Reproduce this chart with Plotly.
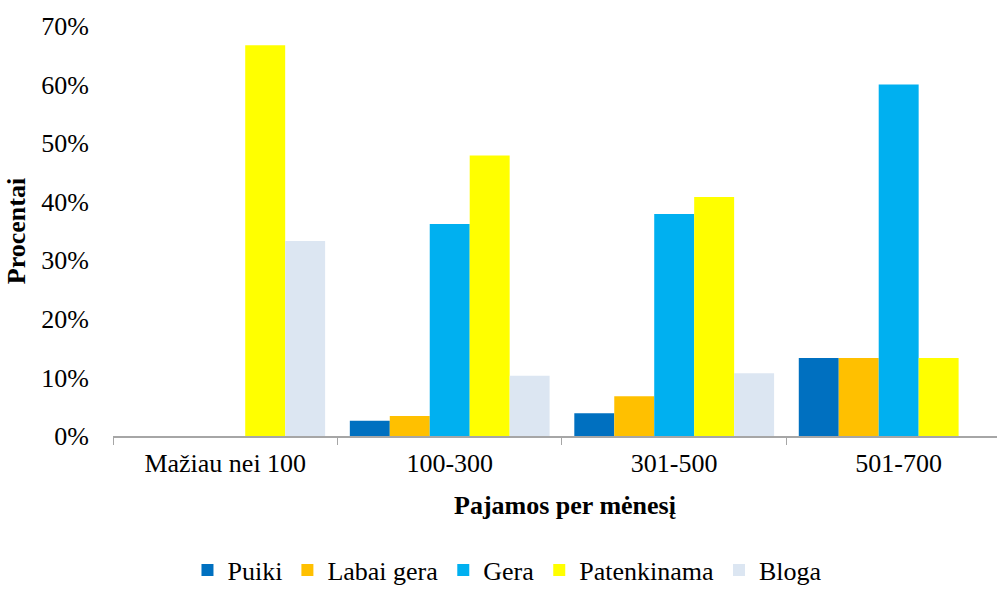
import plotly.graph_objects as go

# Income groups and rating shares (%)
categories = ["Mažiau nei 100", "100-300", "301-500", "501-700"]
series_names = ["Puiki", "Labai gera", "Gera", "Patenkinama", "Bloga"]
puiki = [0, 2.6, 3.9, 13.3]
labai_gera = [0, 3.4, 6.8, 13.3]
gera = [0, 36.2, 37.9, 60.0]
patenkinama = [66.7, 47.9, 40.8, 13.3]
bloga = [33.3, 10.3, 10.7, 0]
colors = ["#0070C0", "#FFC000", "#00B0F0", "#FFFF00", "#DCE6F2"]

FONT = "Liberation Serif"
FS = 26

fig = go.Figure()
for name, vals, col in zip(series_names, [puiki, labai_gera, gera, patenkinama, bloga], colors):
    fig.add_trace(go.Bar(
        name=name, x=categories, y=vals,
        marker=dict(color=col, line=dict(width=0)),
    ))

fig.update_layout(
    width=997, height=589,
    margin=dict(l=113, r=0, t=26, b=153),
    paper_bgcolor="white", plot_bgcolor="white",
    barmode="group", bargap=0.11, bargroupgap=0,
    font=dict(family=FONT, size=FS, color="black"),
    showlegend=True,
    legend=dict(
        orientation="h", xref="container", yref="container",
        x=0.509, xanchor="center", y=0.032, yanchor="middle",
        font=dict(family=FONT, size=FS, color="black"),
        itemwidth=30, traceorder="normal",
    ),
    annotations=[dict(
        text="<b>Pajamos per mėnesį</b>", xref="paper", yref="paper",
        x=0.511, y=0, yshift=-69, xanchor="center", yanchor="middle",
        showarrow=False, font=dict(family=FONT, size=FS, color="black"),
    )],
)
fig.update_xaxes(
    type="category", range=[-0.5, 3.438],
    showline=True, linecolor="#A6A6A6", linewidth=1.5,
    ticks="outside", tickson="boundaries", ticklen=7, tickcolor="#A6A6A6",
    ticklabelstandoff=3,
    tickfont=dict(family=FONT, size=FS, color="black"),
    showgrid=False, zeroline=False,
)
fig.update_yaxes(
    range=[0, 70], dtick=10, ticksuffix="%",
    showline=False, showgrid=False, zeroline=False,
    ticks="outside", ticklen=0, ticklabelstandoff=18,
    tickfont=dict(family=FONT, size=FS, color="black"),
    title=dict(text="<b>Procentai</b>", font=dict(family=FONT, size=FS), standoff=8),
)

fig.write_html("out.html")
